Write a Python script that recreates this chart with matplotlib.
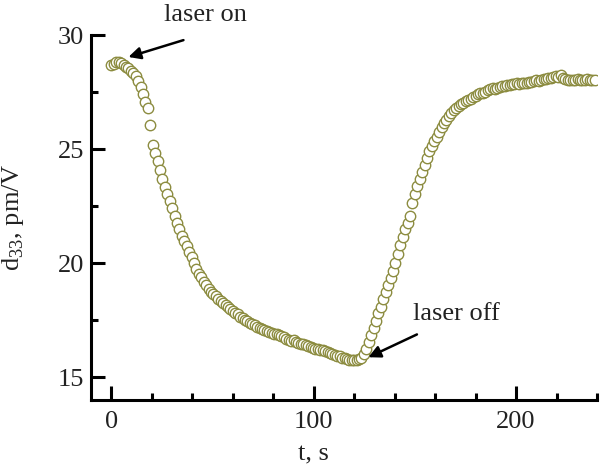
import matplotlib
matplotlib.use("Agg")
import matplotlib.pyplot as plt
from matplotlib.ticker import MultipleLocator

plt.rcParams['font.family'] = ['Liberation Serif', 'DejaVu Serif']
plt.rcParams['mathtext.fontset'] = 'custom'
plt.rcParams['mathtext.rm'] = 'Liberation Serif'

# time, s
t = [0.0, 1.2, 2.4, 3.6, 4.8, 6.0, 7.2, 8.4, 9.6, 10.8,
     12.0, 13.2, 14.4, 15.6, 16.8, 18.0, 19.2, 20.4, 21.6, 22.8,
     24.0, 25.2, 26.4, 27.6, 28.8, 30.0, 31.2, 32.4, 33.6, 34.8,
     36.0, 37.2, 38.4, 39.6, 40.8, 42.0, 43.2, 44.4, 45.6, 46.8,
     48.0, 49.2, 50.4, 51.6, 52.8, 54.0, 55.2, 56.4, 57.6, 58.8,
     60.0, 61.2, 62.4, 63.6, 64.8, 66.0, 67.2, 68.4, 69.6, 70.8,
     72.0, 73.2, 74.4, 75.6, 76.8, 78.0, 79.2, 80.4, 81.6, 82.8,
     84.0, 85.2, 86.4, 87.6, 88.8, 90.0, 91.2, 92.4, 93.6, 94.8,
     96.0, 97.2, 98.4, 99.6, 100.8, 102.0, 103.2, 104.4, 105.6, 106.8,
     108.0, 109.2, 110.4, 111.6, 112.8, 114.0, 115.2, 116.4, 117.6, 118.8,
     120.0, 121.2, 122.4, 123.6, 124.8, 126.0, 127.2, 128.4, 129.6, 130.8,
     132.0, 133.2, 134.4, 135.6, 136.8, 138.0, 139.2, 140.4, 141.6, 142.8,
     144.0, 145.2, 146.4, 147.6, 148.8, 150.0, 151.2, 152.4, 153.6, 154.8,
     156.0, 157.2, 158.4, 159.6, 160.8, 162.0, 163.2, 164.4, 165.6, 166.8,
     168.0, 169.2, 170.4, 171.6, 172.8, 174.0, 175.2, 176.4, 177.6, 178.8,
     180.0, 181.2, 182.4, 183.6, 184.8, 186.0, 187.2, 188.4, 189.6, 190.8,
     192.0, 193.2, 194.4, 195.6, 196.8, 198.0, 199.2, 200.4, 201.6, 202.8,
     204.0, 205.2, 206.4, 207.6, 208.8, 210.0, 211.2, 212.4, 213.6, 214.8,
     216.0, 217.2, 218.4, 219.6, 220.8, 222.0, 223.2, 224.4, 225.6, 226.8,
     228.0, 229.2, 230.4, 231.6, 232.8, 234.0, 235.2, 236.4, 237.6, 238.8]

# d33, pm/V
d33 = [28.68, 28.74, 28.80, 28.82, 28.78, 28.70, 28.62, 28.55, 28.44, 28.33,
       28.20, 27.98, 27.72, 27.42, 27.08, 26.80, 26.05, 25.20, 24.85, 24.48,
       24.08, 23.70, 23.36, 23.05, 22.72, 22.40, 22.08, 21.78, 21.50, 21.20,
       20.98, 20.75, 20.50, 20.28, 20.02, 19.76, 19.55, 19.38, 19.20, 19.04,
       18.86, 18.76, 18.64, 18.55, 18.42, 18.35, 18.26, 18.15, 18.08, 18.00,
       17.90, 17.82, 17.76, 17.66, 17.60, 17.52, 17.48, 17.40, 17.32, 17.28,
       17.22, 17.18, 17.12, 17.08, 17.04, 16.98, 16.96, 16.92, 16.90, 16.84,
       16.80, 16.76, 16.70, 16.62, 16.58, 16.62, 16.55, 16.50, 16.48, 16.44,
       16.40, 16.36, 16.34, 16.30, 16.26, 16.24, 16.20, 16.18, 16.14, 16.10,
       16.06, 16.02, 15.98, 15.95, 15.92, 15.86, 15.84, 15.80, 15.78, 15.76,
       15.74, 15.76, 15.80, 15.86, 16.02, 16.25, 16.55, 16.85, 17.18, 17.48,
       17.80, 18.10, 18.42, 18.75, 19.05, 19.35, 19.65, 20.00, 20.40, 20.80,
       21.15, 21.48, 21.78, 22.06, 22.62, 23.05, 23.38, 23.70, 24.00, 24.32,
       24.62, 24.92, 25.12, 25.36, 25.55, 25.75, 25.98, 26.15, 26.30, 26.45,
       26.58, 26.70, 26.80, 26.90, 26.96, 27.04, 27.10, 27.16, 27.22, 27.28,
       27.34, 27.40, 27.45, 27.48, 27.52, 27.58, 27.62, 27.66, 27.64, 27.70,
       27.72, 27.76, 27.78, 27.82, 27.80, 27.84, 27.86, 27.88, 27.86, 27.90,
       27.92, 27.90, 27.94, 27.96, 27.98, 28.02, 28.00, 28.04, 28.06, 28.08,
       28.10, 28.14, 28.18, 28.22, 28.16, 28.24, 28.10, 28.06, 28.04, 28.02,
       28.04, 28.02, 28.06, 28.04, 28.02, 28.04, 28.06, 28.02, 28.04, 28.05]

fig = plt.figure(figsize=(6, 4.68), dpi=100)
ax = fig.add_axes([0.152, 0.145, 0.843, 0.78])

ax.plot(t, d33, 'o', ls='none', ms=7.5, mfc='white', mec='#8c8c40', mew=1.0)

ax.set_xlim(-10, 240)
ax.set_ylim(14.0, 30)
ax.xaxis.set_major_locator(MultipleLocator(100))
ax.xaxis.set_minor_locator(MultipleLocator(20))
ax.yaxis.set_major_locator(MultipleLocator(5))
ax.yaxis.set_minor_locator(MultipleLocator(2.5))

for s in ['top', 'right']:
    ax.spines[s].set_visible(False)
for s in ['left', 'bottom']:
    ax.spines[s].set_linewidth(2.2)

ax.tick_params(which='both', direction='in', width=2.2, labelsize=19,
               labelcolor='#222222')
ax.tick_params(which='major', length=10)
ax.tick_params(which='minor', length=5)
ax.tick_params(axis='x', pad=8)
ax.tick_params(axis='y', pad=5)

ax.set_xlabel('t, s', fontsize=19, color='#222222')
ax.xaxis.set_label_coords(0.439, -0.118)
ax.set_ylabel('d$_{\\mathrm{33}}$, pm/V', fontsize=19, color='#222222')
ax.yaxis.set_label_coords(-0.128, 0.5)

ax.annotate('laser on', xy=(46.4, 30.87), ha='center', va='center',
            fontsize=19, color='#222222', annotation_clip=False)
ax.annotate('', xy=(8.4, 29.04), xytext=(35.6, 29.78),
            arrowprops=dict(arrowstyle='-|>', color='black', lw=1.8,
                            mutation_scale=18, shrinkA=0, shrinkB=0))
ax.annotate('laser off', xy=(149, 17.76), ha='left', va='center',
            fontsize=19, color='#222222')
ax.annotate('', xy=(127, 15.88), xytext=(151, 16.88),
            arrowprops=dict(arrowstyle='-|>', color='black', lw=1.8,
                            mutation_scale=18, shrinkA=0, shrinkB=0))

fig.savefig('out.png', dpi=100)
